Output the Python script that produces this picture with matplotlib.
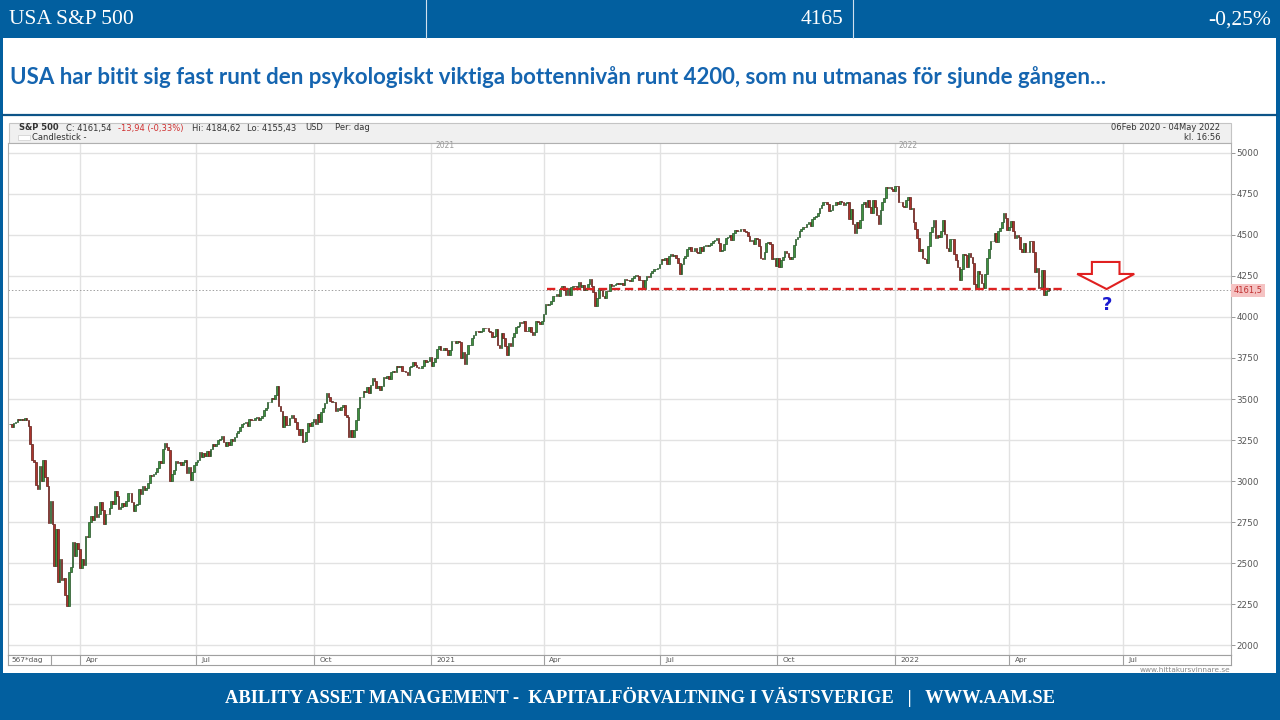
import numpy as np
import matplotlib.pyplot as plt
from matplotlib.patches import Rectangle, Polygon
import matplotlib.transforms as mtransforms

# S&P 500 daily closes, 06 Feb 2020 - 04 May 2022 (last one intraday)
feb20 = [3345.78, 3327.71, 3352.09, 3357.75, 3379.45, 3373.94, 3380.16, 3370.29, 3386.15, 3373.23,
         3337.75, 3225.89, 3128.21, 3116.39, 2978.76, 2954.22]
mar20 = [3090.23, 3003.37, 3130.12, 3023.94, 2972.37, 2746.56, 2882.23, 2741.38, 2480.64, 2711.02,
         2386.13, 2529.19, 2398.10, 2409.39, 2304.92, 2237.40, 2447.33, 2475.56, 2630.07, 2541.47,
         2626.65, 2584.59]
apr20 = [2470.50, 2526.90, 2488.65, 2663.68, 2659.41, 2749.98, 2789.82, 2761.63, 2846.06, 2783.36,
         2799.55, 2874.56, 2823.16, 2736.56, 2799.31, 2797.80, 2836.74, 2878.48, 2863.39, 2939.51,
         2912.43]
may20 = [2830.71, 2842.74, 2868.44, 2848.42, 2881.19, 2929.80, 2930.32, 2870.12, 2820.00, 2852.50,
         2863.70, 2953.91, 2922.94, 2971.61, 2948.51, 2955.45, 2991.77, 3036.13, 3029.73, 3044.31]
jun20 = [3055.73, 3080.82, 3122.87, 3112.35, 3193.93, 3232.39, 3207.18, 3190.14, 3002.10, 3041.31,
         3066.59, 3124.74, 3113.49, 3115.34, 3097.74, 3117.86, 3131.29, 3050.33, 3083.76, 3009.05,
         3053.24, 3100.29]
jul20 = [3115.86, 3130.01, 3179.72, 3145.32, 3169.94, 3152.05, 3185.04, 3155.22, 3197.52, 3226.56,
         3215.57, 3224.73, 3251.84, 3257.30, 3276.02, 3235.66, 3215.63, 3239.41, 3218.44, 3258.44,
         3246.22, 3271.12]
aug20 = [3294.61, 3306.51, 3327.77, 3349.16, 3351.28, 3360.47, 3333.69, 3380.35, 3373.43, 3372.85,
         3381.99, 3389.78, 3374.85, 3385.51, 3397.16, 3431.28, 3443.62, 3478.73, 3484.55, 3508.01,
         3500.31]
sep20 = [3526.65, 3580.84, 3455.06, 3426.96, 3331.84, 3398.96, 3339.19, 3340.97, 3383.54, 3401.20,
         3385.49, 3357.01, 3319.47, 3281.06, 3315.57, 3236.92, 3246.59, 3298.46, 3351.60, 3335.47,
         3363.00]
oct20 = [3380.80, 3348.42, 3408.60, 3360.97, 3419.44, 3446.83, 3477.14, 3534.22, 3511.93, 3488.67,
         3483.34, 3483.81, 3426.92, 3443.12, 3435.56, 3453.49, 3465.39, 3400.97, 3390.68, 3271.03,
         3310.11, 3269.96]
nov20 = [3310.24, 3369.16, 3443.44, 3510.45, 3509.44, 3550.50, 3545.53, 3572.66, 3537.01, 3585.15,
         3626.91, 3609.53, 3567.79, 3581.87, 3557.54, 3577.59, 3635.41, 3629.65, 3638.35, 3621.63]
dec20 = [3662.45, 3669.01, 3666.72, 3699.12, 3691.96, 3702.25, 3672.82, 3668.10, 3663.46, 3647.49,
         3694.62, 3701.17, 3722.48, 3709.41, 3694.92, 3687.26, 3690.01, 3703.06, 3735.36, 3727.04,
         3732.04, 3756.07]
jan21 = [3700.65, 3726.86, 3748.14, 3803.79, 3824.68, 3799.61, 3801.19, 3809.84, 3795.54, 3768.25,
         3798.91, 3851.85, 3853.07, 3841.47, 3855.36, 3849.62, 3750.77, 3787.38, 3714.24]
feb21 = [3773.86, 3826.31, 3830.17, 3871.74, 3886.83, 3915.59, 3911.23, 3909.88, 3916.38, 3934.83,
         3932.59, 3931.33, 3913.97, 3906.71, 3876.50, 3881.37, 3925.43, 3829.34, 3811.15]
mar21 = [3901.82, 3870.29, 3819.72, 3768.47, 3841.94, 3821.35, 3875.44, 3898.81, 3939.34, 3943.34,
         3968.94, 3962.71, 3974.12, 3915.46, 3913.10, 3940.59, 3910.52, 3889.14, 3909.52, 3974.54,
         3971.09, 3958.55, 3972.89]
apr21 = [4019.87, 4077.91, 4073.94, 4079.95, 4097.17, 4128.80, 4127.99, 4141.59, 4124.66, 4170.42,
         4185.47, 4163.26, 4134.94, 4173.42, 4134.98, 4180.17, 4187.62, 4186.72, 4183.18, 4211.47,
         4181.17]
may21 = [4192.66, 4164.66, 4167.59, 4201.62, 4232.60, 4188.43, 4152.10, 4063.04, 4112.50, 4173.85,
         4163.29, 4127.83, 4115.68, 4159.12, 4155.86, 4197.05, 4188.13, 4195.99, 4200.88, 4204.11]
jun21 = [4202.04, 4208.12, 4192.85, 4229.89, 4226.52, 4227.26, 4219.55, 4239.18, 4247.44, 4255.15,
         4246.59, 4223.70, 4221.86, 4166.45, 4224.79, 4246.44, 4241.84, 4266.49, 4280.70, 4290.61,
         4291.80, 4297.50]
jul21 = [4319.94, 4352.34, 4343.54, 4358.13, 4320.82, 4369.55, 4384.63, 4369.21, 4374.30, 4360.03,
         4327.16, 4258.49, 4323.06, 4358.69, 4367.48, 4411.79, 4422.30, 4401.46, 4400.64, 4419.15,
         4395.26]
aug21 = [4387.16, 4423.15, 4402.66, 4429.10, 4436.52, 4432.35, 4436.75, 4447.70, 4460.83, 4468.00,
         4479.71, 4448.08, 4400.27, 4405.80, 4441.67, 4479.53, 4486.23, 4496.19, 4470.00, 4509.37,
         4528.79, 4522.68]
sep21 = [4524.09, 4536.95, 4535.43, 4520.03, 4514.07, 4493.28, 4458.58, 4468.73, 4443.05, 4480.70,
         4473.75, 4432.99, 4357.73, 4354.19, 4395.64, 4448.98, 4455.48, 4443.11, 4352.63, 4359.46,
         4307.54]
oct21 = [4357.04, 4300.46, 4345.72, 4363.55, 4399.76, 4391.34, 4361.19, 4350.65, 4363.80, 4438.26,
         4471.37, 4486.46, 4519.63, 4536.19, 4549.78, 4544.90, 4566.48, 4574.79, 4551.68, 4596.42,
         4605.38]
nov21 = [4613.67, 4630.65, 4660.57, 4680.06, 4697.53, 4701.70, 4685.25, 4646.71, 4649.27, 4682.85,
         4682.80, 4700.90, 4688.67, 4704.54, 4697.96, 4682.94, 4690.70, 4701.46, 4594.62, 4655.27,
         4567.00]
dec21 = [4513.04, 4577.10, 4538.43, 4591.67, 4686.75, 4701.21, 4667.45, 4712.02, 4668.97, 4634.09,
         4709.85, 4668.67, 4620.64, 4568.02, 4649.23, 4696.56, 4725.79, 4791.19, 4786.35, 4793.06,
         4778.73, 4766.18]
jan22 = [4796.56, 4793.54, 4700.58, 4696.05, 4677.03, 4670.29, 4713.07, 4726.35, 4659.03, 4662.85,
         4577.11, 4532.76, 4482.73, 4397.94, 4410.13, 4356.45, 4349.93, 4326.51, 4431.85, 4515.55]
feb22 = [4546.54, 4589.38, 4477.44, 4500.53, 4483.87, 4521.54, 4587.18, 4504.08, 4418.64, 4401.67,
         4471.07, 4475.01, 4380.26, 4348.87, 4304.76, 4225.50, 4288.70, 4384.65, 4373.94]
mar22 = [4306.26, 4386.54, 4363.49, 4328.87, 4201.09, 4170.70, 4277.88, 4259.52, 4204.31, 4173.11,
         4262.45, 4357.86, 4411.67, 4463.12, 4461.18, 4511.61, 4456.24, 4520.16, 4543.06, 4575.52,
         4631.60, 4602.45, 4530.41]
apr22 = [4545.86, 4582.64, 4525.12, 4481.15, 4500.21, 4488.28, 4412.53, 4397.45, 4446.59, 4392.59,
         4391.69, 4462.21, 4459.45, 4393.66, 4271.78, 4296.12, 4175.20, 4183.96, 4287.50, 4131.93]
may22 = [4155.38, 4175.48, 4161.54]
first_open = 3344.92

months = [feb20, mar20, apr20, may20, jun20, jul20, aug20, sep20, oct20, nov20, dec20,
          jan21, feb21, mar21, apr21, may21, jun21, jul21, aug21, sep21, oct21, nov21, dec21,
          jan22, feb22, mar22, apr22, may22]
# trading days in May and June 2022 (axis runs on into the future)
future_days = [21, 21]

tick_labels = ['Apr', 'Jul', 'Oct', '2021', 'Apr', 'Jul', 'Oct', '2022', 'Apr', 'Jul']
tick_month_idx = [2, 5, 8, 11, 14, 17, 20, 23, 26, 29]
yticks = [2000, 2250, 2500, 2750, 3000, 3250, 3500, 3750, 4000, 4250, 4500, 4750, 5000]

support_level = 4170
support_from, support_to = 292, 573
last_price = 4161.54

BLUE = '#025f9f'


def fx(px):
    return px / 1280


def fy(py):
    return 1 - py / 720


closes = np.concatenate([np.array(m) for m in months])
opens = np.concatenate([[first_open], closes[:-1]])
idx = np.arange(len(closes))
month_len = [len(m) for m in months[:-1]] + future_days
month_start = np.concatenate([[0], np.cumsum(month_len)])
tick_pos = month_start[tick_month_idx]

fig = plt.figure(figsize=(12.8, 7.2), dpi=100, facecolor=BLUE)

# white slide panel + separator line
fig.add_artist(Rectangle((fx(3), fy(673)), fx(1273), 635 / 720, transform=fig.transFigure,
                         facecolor='white', edgecolor='none', zorder=-2))
fig.add_artist(plt.Line2D([fx(3), fx(1276)], [fy(114.5), fy(114.5)], transform=fig.transFigure,
                          color='#0d5488', lw=1.6, zorder=-1))
# top banner dividers
for xd in (426, 853):
    fig.add_artist(plt.Line2D([fx(xd), fx(xd)], [fy(0), fy(38)], transform=fig.transFigure,
                              color='#d0e0ee', lw=0.8))

banner = dict(color='white', fontsize=15.5, family='Liberation Serif', va='center')
fig.text(fx(9), fy(20), 'USA S&P 500', **banner)
fig.text(fx(843), fy(20), '4165', ha='right', **banner)
fig.text(fx(1271), fy(20), '-0,25%', ha='right', **banner)

fig.text(fx(10), fy(77), 'USA har bitit sig fast runt den psykologiskt viktiga bottennivån runt 4200, '
         'som nu utmanas för sjunde gången...', color='#1565b0', fontsize=16, family='Lato',
         weight='bold', va='center')

fig.text(fx(640), fy(697), 'ABILITY ASSET MANAGEMENT -  KAPITALFÖRVALTNING I VÄSTSVERIGE   |   WWW.AAM.SE',
         color='white', fontsize=13.3, family='Liberation Serif', weight='bold', va='center', ha='center')

# chart header strip
fig.add_artist(Rectangle((fx(9), fy(143)), fx(1222), 20 / 720, transform=fig.transFigure,
                         facecolor='#f0f0f0', edgecolor='#c4c4c4', lw=0.8, zorder=-1))
hdr = dict(fontsize=6, va='center', color='#333333')
fig.text(fx(19), fy(128), 'S&P 500', weight='bold', **hdr)
fig.text(fx(66), fy(128), 'C: 4161,54', **hdr)
fig.text(fx(118), fy(128), '-13,94 (-0,33%)', fontsize=6, va='center', color='#d03030')
fig.text(fx(192), fy(128), 'Hi: 4184,62', **hdr)
fig.text(fx(247), fy(128), 'Lo: 4155,43', **hdr)
fig.text(fx(305), fy(128), 'USD', **hdr)
fig.text(fx(335), fy(128), 'Per: dag', **hdr)
fig.add_artist(Rectangle((fx(18), fy(140)), fx(12), 5 / 720, transform=fig.transFigure,
                         facecolor='white', edgecolor='#cccccc', lw=0.5))
fig.text(fx(32), fy(138), 'Candlestick -', **hdr)
fig.text(fx(1220), fy(127), '06Feb 2020 - 04May 2022', ha='right', **hdr)
fig.text(fx(1221), fy(138), 'kl. 16:56', ha='right', **hdr)

# main price panel
ax = fig.add_axes([fx(8), fy(655), fx(1223), 512 / 720])
ax.set_facecolor('white')
up = closes >= opens
face = np.where(up, '#3f923f', '#ab342d')
edge = np.where(up, '#245227', '#5e1d18')
ax.bar(idx, closes - opens, bottom=opens, width=0.85, color=face, edgecolor=edge, linewidth=0.5, zorder=3)

ax.set_xlim(-1.1, 663.6)
ax.set_ylim(1942, 5058)
ax.set_xticks([])
ax.set_yticks(yticks)
ax.yaxis.tick_right()
ax.tick_params(axis='y', length=3, width=0.6, color='#888888', labelsize=6.3, labelcolor='#555555', pad=1)
for y in yticks:
    ax.axhline(y, color='#e2e2e2', lw=1, zorder=1)
for t in tick_pos:
    ax.axvline(t, color='#e2e2e2', lw=1, zorder=1)
for sp in ax.spines.values():
    sp.set_color('#b0b0b0')
    sp.set_linewidth(0.8)

for t, lab in zip(tick_pos, tick_labels):
    if lab.isdigit():
        ax.text(t + 2, 5040, lab, fontsize=5.5, color='#999999', va='center')

# last price dotted line + tag
ax.axhline(last_price, color='#a0a0a0', lw=0.7, ls=(0, (1.5, 2)), zorder=2)
trans = mtransforms.blended_transform_factory(ax.transAxes, ax.transData)
ax.text(1.002, last_price, '4161,5', transform=trans, fontsize=6, color='#c03030', va='center', ha='left',
        bbox=dict(boxstyle='square,pad=0.25', facecolor='#f5c3c3', edgecolor='none'))

# support line, arrow and question mark
ax.plot([support_from, support_to], [support_level, support_level], color='#dd2222', lw=1.7,
        dashes=(3.5, 2), zorder=4)
arrow = Polygon([(588, 4334), (603, 4334), (603, 4261), (611, 4261), (596, 4169), (580, 4261), (588, 4261)],
                closed=True, facecolor='white', edgecolor='#e02020', lw=1.5, zorder=5)
ax.add_patch(arrow)
ax.text(596, 4072, '?', fontsize=13, weight='bold', color='#1a1ad0', ha='center', va='center', zorder=5)

# date strip under the chart
sx = fig.add_axes([fx(8), fy(665), fx(1223), 10 / 720])
sx.set_xlim(ax.get_xlim())
sx.set_ylim(0, 1)
sx.set_xticks([])
sx.set_yticks([])
for sp in sx.spines.values():
    sp.set_color('#a0a0a0')
    sp.set_linewidth(0.8)
for t, lab in zip(tick_pos, tick_labels):
    sx.axvline(t, color='#a0a0a0', lw=0.8)
    sx.text(t + 3, 0.5, lab, fontsize=5.3, color='#555555', va='center')
sx.axvline(22.3, color='#a0a0a0', lw=0.8)
sx.text(0.003, 0.5, '567*dag', transform=sx.transAxes, fontsize=5.3, color='#555555', va='center')

fig.text(fx(1230), fy(670), 'www.hittakursvinnare.se', ha='right', va='center', fontsize=5.3, color='#888888')

fig.savefig('out.png', dpi=100, facecolor=fig.get_facecolor())
